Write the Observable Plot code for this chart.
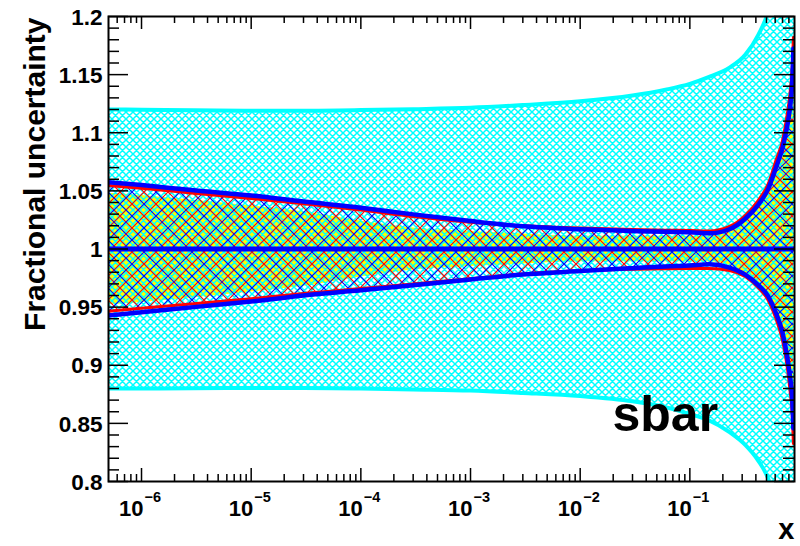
<!DOCTYPE html>
<html>
<head>
<meta charset="utf-8">
<script src="https://cdn.jsdelivr.net/npm/d3@7"></script>
<script src="https://cdn.jsdelivr.net/npm/@observablehq/plot@0.6"></script>
<style>
  html, body { margin: 0; padding: 0; background: #fff; }
  #chart svg { display: block; }
</style>
</head>
<body>
<div id="chart"></div>
<script>
// ---- data ----
const xs = [5e-7, 1e-6, 3e-6, 1e-5, 3e-5, 1e-4, 3e-4, 1e-3, 3e-3, 1e-2, 0.03, 0.06, 0.1, 0.15, 0.23, 0.32, 0.42, 0.52, 0.61, 0.7, 0.77, 0.82, 0.86, 0.88];
const cyanX = [5e-7, 1e-6, 3e-6, 1e-5, 3e-5, 1e-4, 3e-4, 1e-3, 3e-3, 1e-2, 0.03, 0.06, 0.1, 0.15, 0.23, 0.32, 0.42, 0.52, 0.61, 0.7, 0.77, 0.82, 0.86, 0.88, 0.9];

const cyanUpper = [1.1200, 1.1198, 1.1194, 1.1190, 1.1190, 1.1195, 1.1203, 1.1215, 1.1238, 1.1270, 1.1320, 1.1370, 1.1420, 1.1480, 1.1560, 1.1670, 1.1840, 1.2050, 1.2350, 1.2750, 1.3150, 1.3550, 1.3900, 1.4100, 1.4300];
const cyanLower = [0.8800, 0.8800, 0.8802, 0.8805, 0.8805, 0.8800, 0.8792, 0.8782, 0.8762, 0.8735, 0.8690, 0.8640, 0.8580, 0.8525, 0.8425, 0.8315, 0.8180, 0.8020, 0.7790, 0.7500, 0.7100, 0.6700, 0.6300, 0.6100, 0.5900];

const yellowUpper = [1.048, 1.046, 1.042, 1.037, 1.032, 1.024, 1.018, 1.015, 1.013, 1.011, 1.011, 1.011, 1.011, 1.011, 1.015, 1.024, 1.036, 1.050, 1.067, 1.084, 1.102, 1.118, 1.140, 1.165];
const yellowLower = [0.952, 0.954, 0.958, 0.963, 0.968, 0.976, 0.982, 0.985, 0.987, 0.989, 0.989, 0.989, 0.989, 0.989, 0.986, 0.979, 0.970, 0.960, 0.946, 0.930, 0.910, 0.893, 0.873, 0.848];

const redUpper = [1.0546, 1.0522, 1.0480, 1.0435, 1.0390, 1.0335, 1.0280, 1.0230, 1.0200, 1.0180, 1.0168, 1.0162, 1.0160, 1.0155, 1.0194, 1.0288, 1.0417, 1.0563, 1.0761, 1.0933, 1.1148, 1.1338, 1.1578, 1.1819];
const redLower = [0.9465, 0.9490, 0.9530, 0.9572, 0.9617, 0.9660, 0.9698, 0.9745, 0.9785, 0.9812, 0.9825, 0.9830, 0.9832, 0.9832, 0.9815, 0.9763, 0.9669, 0.9557, 0.9402, 0.9213, 0.8998, 0.8783, 0.8568, 0.8327];

const blueUpper = [1.0575, 1.0550, 1.0505, 1.0460, 1.0408, 1.0355, 1.0298, 1.0240, 1.0195, 1.0170, 1.0155, 1.0148, 1.0145, 1.0135, 1.0170, 1.0260, 1.0380, 1.0520, 1.0700, 1.0870, 1.1050, 1.1220, 1.1450, 1.1725];
const blueLower = [0.9428, 0.9455, 0.9500, 0.9548, 0.9600, 0.9645, 0.9688, 0.9738, 0.9780, 0.9810, 0.9835, 0.9850, 0.9858, 0.9868, 0.9840, 0.9780, 0.9690, 0.9590, 0.9450, 0.9280, 0.9080, 0.8900, 0.8700, 0.8456];

const centralValue = [1];

const yTickValues = [0.8, 0.85, 0.9, 0.95, 1, 1.05, 1.1, 1.15, 1.2];
const yTickLabels = ["0.8", "0.85", "0.9", "0.95", "1", "1.05", "1.1", "1.15", "1.2"];
const xTickValues = [1e-6, 1e-5, 1e-4, 1e-3, 1e-2, 1e-1];
const xTickBase = ["10", "10", "10", "10", "10", "10"];
const xTickExponents = ["\u22126", "\u22125", "\u22124", "\u22123", "\u22122", "\u22121"];

const xLabel = "x";
const yLabel = "Fractional uncertainty";
const partonLabel = "sbar";

// ---- build tables ----
const band = (X, lo, hi) => X.map((x, i) => ({x, lo: lo[i], hi: hi[i]}));
const cyanBand = band(cyanX, cyanLower, cyanUpper);
const yellowBand = band(xs, yellowLower, yellowUpper);
const redBand = band(xs, redLower, redUpper);
const blueBand = band(xs, blueLower, blueUpper);

const xDomain = [5e-7, 0.9];
const yDomain = [0.8, 1.2];
const W = 800, H = 546;
const mL = 108, mR = 6, mT = 16, mB = 65;
const innerW = W - mL - mR, innerH = H - mT - mB;

const xMinor = [];
for (let e = -7; e <= -1; e++) for (let m = 2; m <= 9; m++) {
  const v = m * Math.pow(10, e);
  if (v > xDomain[0] && v < xDomain[1]) xMinor.push(v);
}
const yMinor = d3.range(81, 120).filter(d => d % 5 !== 0).map(d => d / 100);
const yTicks = yTickValues.map((v, i) => ({v, label: yTickLabels[i]}));
const xTicks = xTickValues.map((v, i) => ({v, base: xTickBase[i], exp: xTickExponents[i]}));

const CY = "#00ffff", BL = "#0000ff", RD = "#ff0000", YE = "#ffff00";
const curve = "monotone-x";
const font = "'Liberation Sans', Arial, Helvetica, sans-serif";

const chart = Plot.plot({
  width: W, height: H,
  marginLeft: mL, marginRight: mR, marginTop: mT, marginBottom: mB,
  style: {fontFamily: font, background: "#fff"},
  x: {type: "log", domain: xDomain, axis: null},
  y: {domain: yDomain, axis: null},
  marks: [
    Plot.areaY(yellowBand, {x: "x", y1: "lo", y2: "hi", fill: YE, curve, clip: true}),
    Plot.areaY(cyanBand, {x: "x", y1: "lo", y2: "hi", fill: "url(#cyanHatch)", curve, clip: true}),
    Plot.areaY(redBand, {x: "x", y1: "lo", y2: "hi", fill: "url(#redHatch)", curve, clip: true}),
    Plot.areaY(blueBand, {x: "x", y1: "lo", y2: "hi", fill: "url(#blueHatch)", curve, clip: true}),
    Plot.line(cyanBand, {x: "x", y: "hi", stroke: CY, strokeWidth: 4, curve, clip: true}),
    Plot.line(cyanBand, {x: "x", y: "lo", stroke: CY, strokeWidth: 4, curve, clip: true}),
    Plot.line(redBand, {x: "x", y: "hi", stroke: RD, strokeWidth: 3, curve, clip: true}),
    Plot.line(redBand, {x: "x", y: "lo", stroke: RD, strokeWidth: 3, curve, clip: true}),
    Plot.line(blueBand, {x: "x", y: "hi", stroke: BL, strokeWidth: 4.5, curve, clip: true}),
    Plot.line(blueBand, {x: "x", y: "lo", stroke: BL, strokeWidth: 4.5, curve, clip: true}),
    Plot.ruleY(centralValue, {stroke: BL, strokeWidth: 5}),
    // ticks (inward, on all four sides)
    Plot.ruleX(xTickValues, {x: d => d, insetTop: innerH - 13, stroke: "#000", strokeWidth: 1.5}),
    Plot.ruleX(xMinor, {x: d => d, insetTop: innerH - 7, stroke: "#000", strokeWidth: 1.5}),
    Plot.ruleX(xTickValues, {x: d => d, insetBottom: innerH - 13, stroke: "#000", strokeWidth: 1.5}),
    Plot.ruleX(xMinor, {x: d => d, insetBottom: innerH - 7, stroke: "#000", strokeWidth: 1.5}),
    Plot.ruleY(yTickValues, {y: d => d, insetRight: innerW - 20, stroke: "#000", strokeWidth: 1.5}),
    Plot.ruleY(yMinor, {y: d => d, insetRight: innerW - 11, stroke: "#000", strokeWidth: 1.5}),
    Plot.ruleY(yTickValues, {y: d => d, insetLeft: innerW - 20, stroke: "#000", strokeWidth: 1.5}),
    Plot.ruleY(yMinor, {y: d => d, insetLeft: innerW - 11, stroke: "#000", strokeWidth: 1.5}),
    Plot.frame({stroke: "#000", strokeWidth: 2}),
    // tick labels
    Plot.text(yTicks, {y: "v", frameAnchor: "left", text: "label", textAnchor: "end", dx: -6, dy: 1, fontSize: 22.5, fontWeight: "bold", fill: "#000"}),
    Plot.text(xTicks, {x: "v", frameAnchor: "bottom", text: "base", textAnchor: "end", lineAnchor: "bottom", dx: 2, dy: 34, fontSize: 22, fontWeight: "bold", fill: "#000"}),
    Plot.text(xTicks, {x: "v", frameAnchor: "bottom", text: "exp", textAnchor: "start", lineAnchor: "bottom", dx: 3, dy: 20, fontSize: 14.5, fontWeight: "bold", fill: "#000"}),
    // titles
    Plot.text([yLabel], {frameAnchor: "top-left", rotate: -90, textAnchor: "end", lineAnchor: "bottom", dx: -64, dy: 1, fontSize: 30, fontWeight: "bold", fill: "#000"}),
    Plot.text([xLabel], {frameAnchor: "bottom-right", textAnchor: "end", lineAnchor: "bottom", dx: 0, dy: 57, fontSize: 29, fontWeight: "bold", fill: "#000"}),
    Plot.text([partonLabel], {frameAnchor: "bottom-right", textAnchor: "start", lineAnchor: "bottom", dx: -182, dy: -51, fontSize: 50, fontWeight: "bold", fill: "#000"})
  ]
});

d3.select(chart).insert("defs", ":first-child").html(`
  <pattern id="cyanHatch" patternUnits="userSpaceOnUse" width="7" height="7">
    <path d="M0,0L7,7M7,0L0,7M-1,6L1,8M6,-1L8,1M-1,1L1,-1M6,8L8,6" stroke="${CY}" stroke-width="1.5" fill="none"/>
  </pattern>
  <pattern id="redHatch" patternUnits="userSpaceOnUse" width="24" height="24">
    <path d="M0,0L24,24M24,0L0,24M-1,23L1,25M23,-1L25,1M-1,1L1,-1M23,25L25,23" stroke="${RD}" stroke-width="1.1" fill="none"/>
  </pattern>
  <pattern id="blueHatch" patternUnits="userSpaceOnUse" width="24" height="24" patternTransform="translate(12,0)">
    <path d="M0,0L24,24M24,0L0,24M-1,23L1,25M23,-1L25,1M-1,1L1,-1M23,25L25,23" stroke="${BL}" stroke-width="1.1" fill="none"/>
  </pattern>
`);

document.getElementById("chart").appendChild(chart);
</script>
</body>
</html>
